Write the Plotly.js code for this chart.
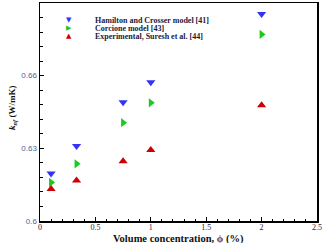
<!DOCTYPE html>
<html><head><meta charset="utf-8">
<script src="https://cdn.plot.ly/plotly-3.0.1.min.js"></script>
<style>html,body{margin:0;padding:0;background:#fff}#c{width:324px;height:243px}</style>
</head><body><div id="c"></div>
<script>
const phi = [0.1, 0.33, 0.75, 1.0, 2.0];
const hamiltonCrosser = [0.6196, 0.631, 0.649, 0.6573, 0.6855];
const corcione = [0.6159, 0.6236, 0.6406, 0.6488, 0.677];
const experimental = [0.6132, 0.6167, 0.6247, 0.6293, 0.6478];
const seriesNames = ["Hamilton and Crosser model [41]", "Corcione model [43]", "Experimental, Suresh et al. [44]"];
const seriesColors = ["#3333f5", "#1ec81e", "#cc0000"];
const seriesSymbols = ["triangle-down", "triangle-right", "triangle-up"];
const legendGlyphs = ["\u25BC", "\u25B6", "\u25B2"];
const xTicks = [0, 0.5, 1, 1.5, 2, 2.5];
const xTickText = ["0", "0.5", "1", "1.5", "2", "2.5"];
const yTicks = [0.6, 0.63, 0.66, 0.69];
const yTickText = ["0.6", "0.63", "0.66", "0.69"];

const ys = [hamiltonCrosser, corcione, experimental];
const traces = ys.map((y, i) => ({
  x: phi, y: y, type: 'scatter', mode: 'markers', name: seriesNames[i],
  marker: {symbol: seriesSymbols[i], color: seriesColors[i], size: 8, line: {width: 0}},
  showlegend: false
}));

const serif = 'Liberation Serif, Times New Roman, serif';
const annotations = [];
const legY = [0.922, 0.885, 0.848];
for (let i = 0; i < 3; i++) {
  annotations.push({xref: 'paper', yref: 'paper', x: 0.104, y: legY[i], text: legendGlyphs[i],
    showarrow: false, xanchor: 'center', yanchor: 'middle', font: {family: 'DejaVu Sans', size: 7, color: seriesColors[i]}});
  annotations.push({xref: 'paper', yref: 'paper', x: 0.19, y: legY[i], text: '<b>' + seriesNames[i] + '</b>',
    showarrow: false, xanchor: 'left', yanchor: 'middle', font: {family: serif, size: 8, color: '#1a1a3a'}});
}
annotations.push({xref: 'paper', yref: 'paper', x: -0.1, y: 0.52, textangle: -90,
  text: '<b><i>k</i><sub><i>nf</i></sub> (W/mK)</b>', showarrow: false, xanchor: 'center', yanchor: 'middle',
  font: {family: serif, size: 9, color: '#111'}});
annotations.push({xref: 'paper', yref: 'paper', x: 0.5, y: -0.045, yanchor: 'top', xanchor: 'center',
  text: '<b>Volume concentration, <span style="color:#8a3a10">\u03D5</span> (%)</b>', showarrow: false,
  font: {family: serif, size: 10.5, color: '#111'}});

const layout = {
  width: 324, height: 243,
  margin: {l: 40, r: 7, t: 3, b: 22, pad: 0},
  paper_bgcolor: '#fff', plot_bgcolor: '#fff',
  showlegend: false,
  xaxis: {range: [0, 2.5], tickvals: xTicks, ticktext: xTickText, ticks: 'inside', ticklen: 4, tickwidth: 1,
    tickcolor: '#000', showline: true, linecolor: '#000', linewidth: 1.5, mirror: true, showgrid: false, zeroline: false,
    tickfont: {family: serif, size: 8, color: '#1a1a40'}, ticklabelstandoff: -2,
    minor: {dtick: 0.1, tick0: 0, ticks: 'inside', ticklen: 2.5, tickcolor: '#000', showgrid: false}},
  yaxis: {range: [0.6, 0.69], tickvals: yTicks, ticktext: yTickText, ticks: 'inside', ticklen: 4, tickwidth: 1,
    tickcolor: '#000', showline: true, linecolor: '#000', linewidth: 1.5, mirror: true, showgrid: false, zeroline: false,
    tickfont: {family: 'Liberation Sans, Arial, sans-serif', size: 8, color: '#4a64a0'},
    minor: {dtick: 0.006, tick0: 0.6, ticks: 'inside', ticklen: 2.5, tickcolor: '#000', showgrid: false}},
  annotations: annotations
};
Plotly.newPlot('c', traces, layout, {staticPlot: true});
</script></body></html>
